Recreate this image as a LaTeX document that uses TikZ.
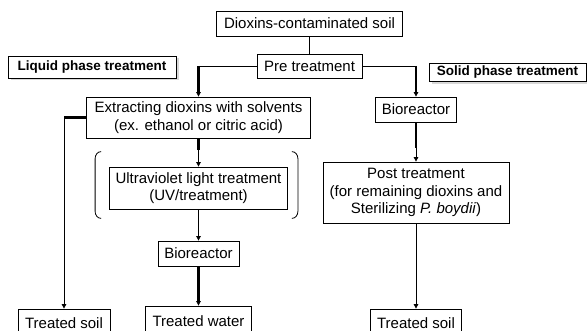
\documentclass[tikz,border=0pt]{standalone}
\usepackage{fontspec}
\setmainfont{Liberation Sans}
\usetikzlibrary{arrows.meta,shadows}
\tikzset{
   stage/.style = { draw, line width=0.8pt, align=center, inner sep=0pt,
                    font=\fontsize{15}{17.5}\selectfont },
   phase/.style = { draw, line width=0.8pt, fill=white, inner sep=0pt,
                    font=\fontsize{13.5}{16}\selectfont\bfseries,
                    drop shadow={shadow xshift=2.5pt, shadow yshift=-2.5pt, fill=black!30} },
    link/.style = { line width=0.8pt },
   arrow/.style = { link, -{Triangle[length=4.5pt,width=4.5pt]} },
   heavy/.style = { line width=2.6pt }
}

\begin{document}
\begin{tikzpicture}[x=1pt, y=-1pt]
  \useasboundingbox (0,0) rectangle (587,331);

  % boxes
  \node[stage, minimum width=186pt, minimum height=25pt] (soil)    at (309.5,23.5) {Dioxins-contaminated soil};
  \node[stage, minimum width=105pt, minimum height=24pt] (pre)     at (309.5,66)   {Pre treatment};
  \node[phase, minimum width=168pt, minimum height=22pt] (liquid)  at (92,67)      {Liquid phase treatment};
  \node[phase, minimum width=157pt, minimum height=18pt] (solid)   at (507.5,72.5) {Solid phase treatment};
  \node[stage, minimum width=224pt, minimum height=41pt] (extract) at (198.5,117.5) {Extracting dioxins with solvents\\(ex. ethanol or citric acid)};
  \node[stage, minimum width=81pt,  minimum height=25pt] (bio1)    at (416,109.5)  {Bioreactor};
  \node[stage, minimum width=178pt, minimum height=42pt] (uv)      at (198.5,188)  {Ultraviolet light treatment\\(UV/treatment)};
  \node[stage, minimum width=81pt,  minimum height=25pt] (bio2)    at (198.5,253.5) {Bioreactor};
  \node[stage, minimum width=186pt, minimum height=61pt] (post)    at (416,192.5)  {Post treatment\\(for remaining dioxins and\\Sterilizing \textit{P. boydii})};
  \node[stage, minimum width=106pt, minimum height=30pt] (water)   at (198.5,321)  {Treated water};
  \node[stage, minimum width=92pt,  minimum height=28pt] (soilL)   at (64,323)     {Treated soil};
  \node[stage, minimum width=91pt,  minimum height=28pt] (soilR)   at (416,323)    {Treated soil};

  % brackets round the UV step
  \draw[link] ([xshift=-8pt,yshift=15pt]uv.north west) to[out=180,in=90]
              ([xshift=-14pt,yshift=8pt]uv.north west) --
              ([xshift=-14pt,yshift=-2pt]uv.south west) to[out=-90,in=180]
              ([xshift=-8pt,yshift=-9pt]uv.south west);
  \draw[link] ([xshift=4pt,yshift=15pt]uv.north east) to[out=0,in=90]
              ([xshift=10pt,yshift=8pt]uv.north east) --
              ([xshift=10pt,yshift=-2pt]uv.south east) to[out=-90,in=0]
              ([xshift=4pt,yshift=-9pt]uv.south east);

  % connectors
  \draw[link]  (soil) -- (pre);
  \draw[arrow] (pre.west) -| (extract.north);
  \draw[heavy] (pre.west -| extract.north) -- ([yshift=5pt]extract.north);
  \draw[arrow] (pre.east) -| (bio1.north);
  \draw[heavy] (pre.east -| bio1.north) -- ([yshift=5pt]bio1.north);
  \draw[arrow] (bio1) -- (post);
  \draw[heavy] (bio1.south) -- ++(0,26);
  \draw[arrow] (post) -- (soilR);
  \draw[arrow] (extract) -- (uv);
  \draw[heavy] (extract.south) -- ++(0,12);
  \draw[arrow] (uv) -- (bio2);
  \draw[arrow] (bio2) -- (water);
  \draw[heavy] (bio2.south) -- ([yshift=5pt]water.north);
  \draw[arrow] (extract.west) -| (soilL.north);
  \draw[heavy] (extract.west) -- (extract.west -| soilL.north);
\end{tikzpicture}
\end{document}
